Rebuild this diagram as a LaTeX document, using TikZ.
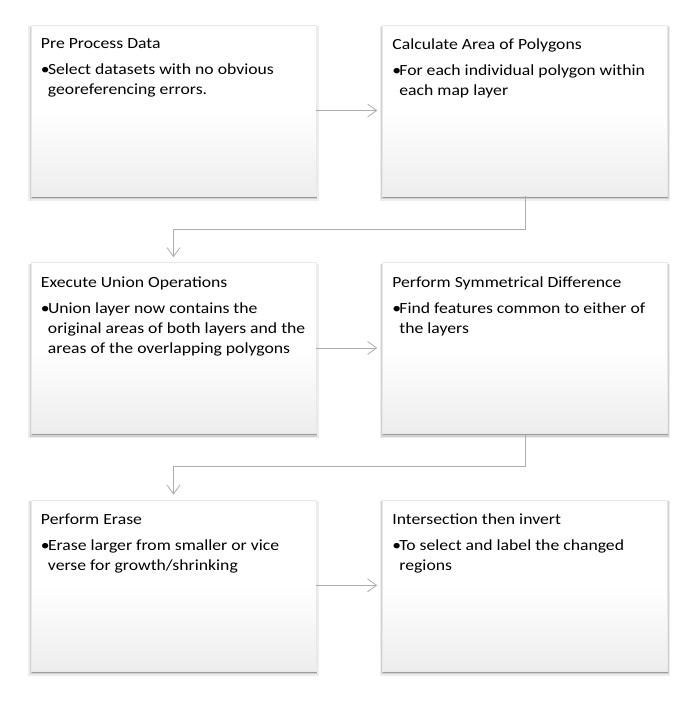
\documentclass[tikz,border=0pt]{standalone}
\usepackage{fontspec}
\setmainfont{Carlito}[FakeStretch=1.14]
\usetikzlibrary{positioning,shadows,arrows.meta}
\pgfdeclareverticalshading{stagefade}{100bp}{color(0bp)=(gray!28); color(50bp)=(white); color(100bp)=(white)}
\tikzset{
  stage/.style = {
    draw=gray!18, shading=stagefade,
    minimum width=285pt, minimum height=171pt, inner sep=0pt,
    drop shadow={shadow xshift=0pt, shadow yshift=-3pt, shadow scale=1.02, fill=black, opacity=0.07},
    drop shadow={shadow xshift=0pt, shadow yshift=-2.5pt, shadow scale=1.01, fill=black, opacity=0.12},
    drop shadow={shadow xshift=0.5pt, shadow yshift=-2pt, fill=black, opacity=0.25}
  },
  note/.style = {
    font=\fontsize{15.5}{20}\selectfont, align=left, inner sep=0pt
  },
  link/.style = {
    draw=gray!65, line width=0.8pt,
    -{Straight Barb[length=9pt,width=13pt,line width=0.8pt]}, shorten >=5pt
  }
}
\newcommand{\itm}{\makebox[7pt][l]{\textbullet}}
\newcommand{\hang}{\hspace*{7pt}}

\begin{document}
\begin{tikzpicture}[x=1pt,y=-1pt]
  \useasboundingbox (0,0) rectangle (690,705);
  % boxes
  \node[stage] (pre) at (173.5,110.5) {};
  \node[stage, right=66pt of pre] (area) {};
  \node[stage, below=66pt of pre] (union) {};
  \node[stage, right=66pt of union] (symdiff) {};
  \node[stage, below=66pt of union] (erase) {};
  \node[stage, right=66pt of erase] (invert) {};
  % texts
  \node[note, below right=14pt and 10pt of pre.north west] (preText)
    {Pre Process Data\\[6pt]
     \itm Select datasets with no obvious\\
     \hang georeferencing errors.};
  \node[note, below right=14pt and 10pt of area.north west] (areaText)
    {Calculate Area of Polygons\\[6pt]
     \itm For each individual polygon within\\
     \hang each map layer};
  \node[note, below right=14pt and 10pt of union.north west] (unionText)
    {Execute Union Operations\\[6pt]
     \itm Union layer now contains the\\
     \hang original areas of both layers and the\\
     \hang areas of the overlapping polygons};
  \node[note, below right=14pt and 10pt of symdiff.north west] (symdiffText)
    {Perform Symmetrical Difference\\[6pt]
     \itm Find features common to either of\\
     \hang the layers};
  \node[note, below right=14pt and 10pt of erase.north west] (eraseText)
    {Perform Erase\\[6pt]
     \itm Erase larger from smaller or vice\\
     \hang verse for growth/shrinking};
  \node[note, below right=14pt and 10pt of invert.north west] (invertText)
    {Intersection then invert\\[6pt]
     \itm To select and label the changed\\
     \hang regions};
  % arrows
  \draw[link] (pre) -- (area);
  \draw[link] (area.south) -- ++(0,33) -| (union.north);
  \draw[link] (union) -- (symdiff);
  \draw[link] (symdiff.south) -- ++(0,33) -| (erase.north);
  \draw[link] (erase) -- (invert);
\end{tikzpicture}
\end{document}
